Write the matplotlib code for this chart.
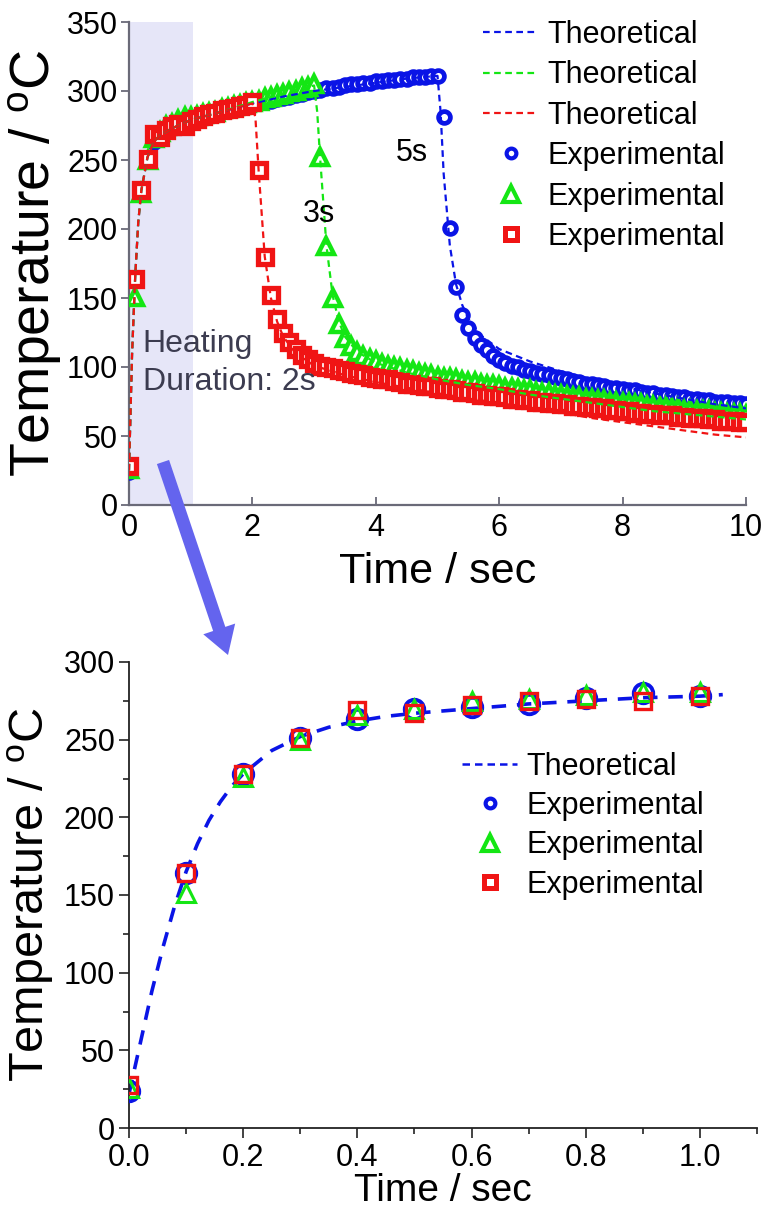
import numpy as np
import matplotlib
matplotlib.use('Agg')
import matplotlib.pyplot as plt
from matplotlib.patches import FancyArrowPatch
from matplotlib.lines import Line2D
from matplotlib.ticker import MultipleLocator, FormatStrFormatter

plt.rcParams['font.family'] = ['Liberation Sans', 'DejaVu Sans']
plt.rcParams['mathtext.default'] = 'regular'

# ---------------- data ----------------
# experimental sampling times (s)
time_exp = np.round(np.arange(0, 10.05, 0.1), 1)

# 5 s heating (blue circles)
temp_5s = [24, 164, 228, 251, 263, 270, 271, 273, 277, 280,
           278, 281, 282, 283, 284, 285, 286, 287, 288, 289,
           290, 291, 292, 293, 294, 295, 296, 297, 298, 299,
           300, 301, 302, 302, 303, 304, 305, 305, 306, 306,
           307, 307, 308, 308, 309, 309, 310, 310, 310, 311,
           311,
           281, 201, 158, 138, 128, 121, 116, 112, 108,
           105, 103, 101, 100, 98, 97, 96, 95, 94, 93,
           92, 91, 90, 89, 88, 88, 87, 86, 85, 85,
           84, 83, 83, 82, 81, 81, 80, 80, 79, 78,
           78, 77, 77, 76, 76, 75, 75, 75, 74, 74,
           73]

# 3 s heating (green triangles)
temp_3s = [26, 151, 226, 250, 266, 270, 275, 276, 279, 281,
           281, 282, 283, 284, 285, 287, 288, 289, 290, 291,
           292, 293, 295, 296, 297, 298, 299, 300, 302, 303,
           305,
           252, 188, 150, 131, 121, 115, 111, 108, 106,
           104, 102, 101, 100, 99, 98, 97, 96, 95, 94,
           93, 92, 92, 91, 90, 89, 89, 88, 87, 87,
           86, 85, 85, 84, 83, 83, 82, 81, 81, 80,
           80, 79, 78, 78, 77, 77, 76, 76, 75, 75,
           74, 74, 73, 73, 72, 72, 71, 71, 70, 70,
           69, 69, 68, 68, 68, 67, 67, 66, 66, 66,
           65]

# 2 s heating (red squares)
temp_2s = [28, 164, 228, 251, 269, 267, 272, 275, 276, 275,
           278, 280, 282, 283, 284, 286, 287, 288, 289, 290,
           292,
           243, 180, 152, 135, 125, 118, 113, 109, 106,
           103, 101, 100, 99, 98, 97, 96, 95, 94, 93,
           92, 91, 91, 90, 89, 88, 88, 87, 86, 86,
           85, 84, 84, 83, 82, 82, 81, 80, 80, 79,
           79, 78, 77, 77, 76, 76, 75, 75, 74, 74,
           73, 73, 72, 72, 71, 71, 70, 70, 69, 69,
           68, 68, 67, 67, 66, 66, 65, 65, 65, 64,
           64, 63, 63, 63, 62, 62, 61, 61, 61, 60,
           60]

# theoretical curves
time_th_5s = [0, 0.05, 0.1, 0.15, 0.2, 0.3, 0.4, 0.5, 0.7, 1.0, 1.5, 2.0, 2.5, 3.0, 3.5,
              4.0, 4.5, 5.0, 5.05, 5.1, 5.2, 5.3, 5.4, 5.5, 5.7, 6.0, 6.5, 7.0, 7.5,
              8.0, 8.5, 9.0, 9.5, 10.0]
theo_5s = [25, 110, 165, 205, 228, 252, 263, 268, 273, 279, 285, 291, 296, 300, 303,
           306, 309, 311, 285, 240, 188, 160, 145, 135, 123, 113, 104, 97, 91,
           86, 81, 77, 73, 70]

time_th_3s = [0, 0.05, 0.1, 0.15, 0.2, 0.3, 0.4, 0.5, 0.7, 1.0, 1.5, 2.0, 2.5, 3.0,
              3.05, 3.1, 3.2, 3.3, 3.4, 3.5, 3.7, 4.0, 4.5, 5.0, 5.5, 6.0, 6.5, 7.0,
              7.5, 8.0, 8.5, 9.0, 9.5, 10.0]
theo_3s = [25, 110, 165, 205, 228, 252, 263, 268, 273, 279, 285, 292, 298, 304,
           285, 250, 188, 152, 133, 122, 111, 103, 96, 91, 87, 84, 80, 77,
           74, 71, 68, 66, 64, 62]

time_th_2s = [0, 0.05, 0.1, 0.15, 0.2, 0.3, 0.4, 0.5, 0.7, 1.0, 1.5, 2.0, 2.05, 2.1,
              2.2, 2.3, 2.4, 2.5, 2.7, 3.0, 3.5, 4.0, 4.5, 5.0, 5.5, 6.0, 6.5, 7.0,
              7.5, 8.0, 8.5, 9.0, 9.5, 10.0]
theo_2s = [25, 110, 165, 205, 228, 252, 263, 268, 273, 279, 285, 291, 280, 243,
           180, 150, 133, 122, 110, 101, 94, 89, 85, 81, 77, 74, 70, 67,
           63, 60, 57, 54, 51, 49]

# zoomed theoretical curve (first second)
time_th_zoom = [0.0, 0.02, 0.04, 0.06, 0.08, 0.10, 0.12, 0.14, 0.16, 0.18, 0.20,
                0.25, 0.30, 0.35, 0.40, 0.45, 0.50, 0.60, 0.70, 0.80, 0.90, 1.00, 1.04]
theo_zoom = [22, 55, 88, 117, 143, 165, 183, 198, 210, 220, 228,
             243, 252, 258, 262, 265, 267, 270, 273, 275, 277, 278, 279]

n_zoom = 11  # points shown in the zoom (0 - 1.0 s)

heating_label = 'Heating\nDuration: 2s'

BLUE = '#0a14e6'
GREEN = '#14e614'
RED = '#f01414'

# ---------------- figure ----------------
fig = plt.figure(figsize=(7.66, 12.18), dpi=100)
ax1 = fig.add_axes([129 / 766, 1 - 505 / 1218, (746 - 129) / 766, 483 / 1218])
ax2 = fig.add_axes([129 / 766, 1 - 1128 / 1218, (757 - 129) / 766, 466 / 1218])

# ---- top panel ----
ax1.axvspan(0, 1.03, color='#e6e6f8', zorder=0, lw=0)

mk = dict(ls='none', mfc='white', zorder=3)
ax1.plot(time_exp, temp_5s, marker='o', ms=8.5, mew=3.4, mec=BLUE, **mk)
ax1.plot(time_exp, temp_3s, marker='^', ms=11, mew=3.2, mec=GREEN, **mk)
ax1.plot(time_exp, temp_2s, marker='s', ms=10, mew=3.8, mec=RED, **mk)

ds = (3, 2)
ax1.plot(time_th_5s, theo_5s, color=BLUE, lw=1.6, dashes=ds, zorder=4)
ax1.plot(time_th_3s, theo_3s, color=GREEN, lw=1.6, dashes=ds, zorder=4)
ax1.plot(time_th_2s, theo_2s, color=RED, lw=1.6, dashes=ds, zorder=4)

ax1.set_xlim(0, 10)
ax1.set_ylim(0, 350)
ax1.xaxis.set_major_locator(MultipleLocator(2))
ax1.yaxis.set_major_locator(MultipleLocator(50))
for s in ['top', 'right']:
    ax1.spines[s].set_visible(False)
for s in ['left', 'bottom']:
    ax1.spines[s].set_color('#6a6a78')
    ax1.spines[s].set_linewidth(1.6)
ax1.tick_params(axis='x', direction='in', length=6, width=1.3, color='#6a6a78',
                labelsize=22, pad=6)
ax1.tick_params(axis='y', direction='out', length=6, width=1.3, color='#6a6a78',
                labelsize=22, pad=2)
ax1.set_xlabel('Time / sec', fontsize=31, labelpad=6)
ax1.set_ylabel('Temperature / $^{o}$C', fontsize=40, labelpad=2)

ax1.text(4.58, 255, '5s', fontsize=22, ha='center', va='center', zorder=5)
ax1.text(3.08, 211, '3s', fontsize=22, ha='center', va='center', zorder=5)
ax1.text(0.22, 103, heating_label, fontsize=23, ha='left', va='center',
         color='#3c3c50', linespacing=1.35, zorder=5)

h_top = [
    Line2D([], [], color=BLUE, lw=1.6, dashes=ds),
    Line2D([], [], color=GREEN, lw=1.6, dashes=ds),
    Line2D([], [], color=RED, lw=1.6, dashes=ds),
    Line2D([], [], marker='o', ms=7, mew=3.0, mec=BLUE, mfc='white', ls='none'),
    Line2D([], [], marker='^', ms=11, mew=3.0, mec=GREEN, mfc='white', ls='none'),
    Line2D([], [], marker='s', ms=9, mew=3.6, mec=RED, mfc='white', ls='none'),
]
l_top = ['Theoretical', 'Theoretical', 'Theoretical',
         'Experimental', 'Experimental', 'Experimental']
ax1.legend(h_top, l_top, loc='upper left', bbox_to_anchor=(483 / 766, 1 - 20 / 1218),
           bbox_transform=fig.transFigure, frameon=False, fontsize=22,
           handlelength=1.8, handletextpad=0.3, labelspacing=0.34, borderpad=0,
           borderaxespad=0)

# ---- bottom panel ----
ax2.plot(time_exp[:n_zoom], temp_5s[:n_zoom], ls='none', marker='o', ms=14, mew=2.8,
         mec=BLUE, mfc='none', zorder=3)
ax2.plot(time_exp[:n_zoom], temp_3s[:n_zoom], ls='none', marker='^', ms=13, mew=2.2,
         mec=GREEN, mfc='none', zorder=4)
ax2.plot(time_exp[:n_zoom], temp_2s[:n_zoom], ls='none', marker='s', ms=11, mew=2.4,
         mec=RED, mfc='none', zorder=5)
ax2.plot(time_th_zoom, theo_zoom, color=BLUE, lw=2.6, dashes=(4, 3), zorder=2)

ax2.set_xlim(0, 1.1)
ax2.set_ylim(0, 300)
ax2.xaxis.set_major_locator(MultipleLocator(0.2))
ax2.xaxis.set_minor_locator(MultipleLocator(0.1))
ax2.yaxis.set_major_locator(MultipleLocator(50))
ax2.yaxis.set_minor_locator(MultipleLocator(25))
ax2.xaxis.set_major_formatter(FormatStrFormatter('%.1f'))
for s in ['top', 'right']:
    ax2.spines[s].set_visible(False)
for s in ['left', 'bottom']:
    ax2.spines[s].set_color('#222222')
    ax2.spines[s].set_linewidth(1.3)
ax2.tick_params(which='both', direction='out', width=1.2, color='#222222')
ax2.tick_params(which='major', length=7, labelsize=22)
ax2.tick_params(which='minor', length=4)
ax2.tick_params(axis='y', pad=3)
ax2.tick_params(axis='x', pad=4)
ax2.set_xlabel('Time / sec', fontsize=28, labelpad=0)
ax2.set_ylabel('Temperature / $^{o}$C', fontsize=35, labelpad=6)

h_bot = [
    Line2D([], [], color=BLUE, lw=1.8, dashes=(3, 2)),
    Line2D([], [], marker='o', ms=7, mew=3.0, mec=BLUE, mfc='white', ls='none'),
    Line2D([], [], marker='^', ms=11, mew=3.0, mec=GREEN, mfc='white', ls='none'),
    Line2D([], [], marker='s', ms=9, mew=3.6, mec=RED, mfc='white', ls='none'),
]
l_bot = ['Theoretical', 'Experimental', 'Experimental', 'Experimental']
ax2.legend(h_bot, l_bot, loc='upper left', bbox_to_anchor=(462 / 766, 1 - 752 / 1218),
           bbox_transform=fig.transFigure, frameon=False, fontsize=22,
           handlelength=1.8, handletextpad=0.3, labelspacing=0.3, borderpad=0,
           borderaxespad=0)

# ---- connecting arrow ----
arrow = FancyArrowPatch((163 / 766, 1 - 462 / 1218), (228 / 766, 1 - 655 / 1218),
                        transform=fig.transFigure,
                        arrowstyle='simple,head_width=1.1,head_length=0.9,tail_width=0.42',
                        mutation_scale=22, color='#6464ee', lw=0,
                        shrinkA=0, shrinkB=0, zorder=10)
fig.add_artist(arrow)

fig.savefig('out.png', dpi=100)
